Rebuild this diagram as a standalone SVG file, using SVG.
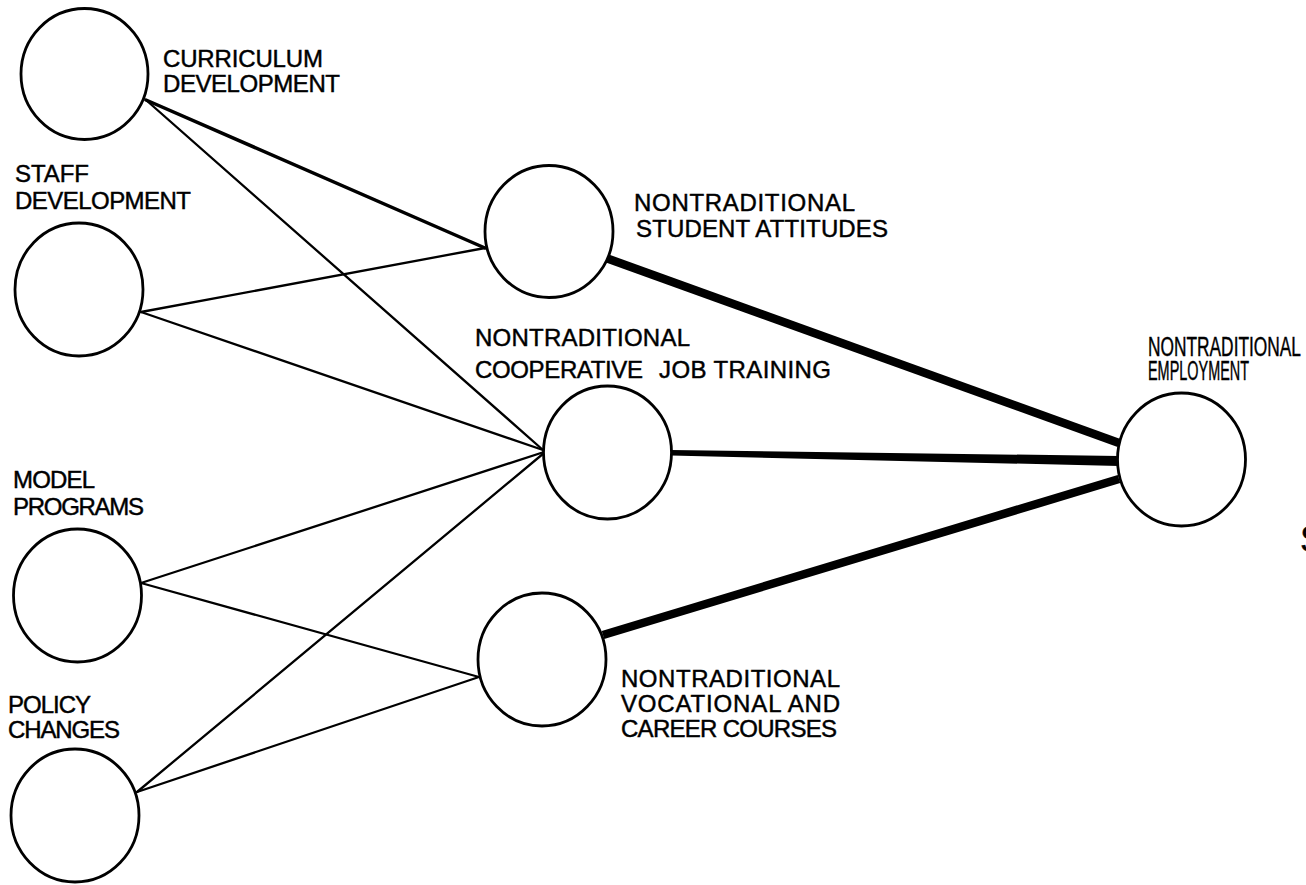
<svg xmlns="http://www.w3.org/2000/svg" width="1306" height="885" viewBox="0 0 1306 885">
<style>
.n{fill:#fff;stroke:#000;stroke-width:2.8}
.t{font-family:"Liberation Sans",Arial,sans-serif;font-size:24px;fill:#000;stroke:#000;stroke-width:0.45}
.c{stroke:#000;stroke-width:2.3;fill:none;stroke-linecap:round}
.k{stroke:#000;fill:none}
</style>
<rect width="1306" height="885" fill="#fff"/>
<g id="connectors">
<line class="c" x1="146" y1="100" x2="485" y2="248" style="stroke-width:3.5"/>
<line class="c" x1="146" y1="100" x2="543" y2="450"/>
<line class="c" x1="141" y1="312" x2="485" y2="248"/>
<line class="c" x1="141" y1="312" x2="543" y2="450"/>
<line class="c" x1="141" y1="583" x2="544" y2="452"/>
<line class="c" x1="141" y1="583" x2="479" y2="677"/>
<line class="c" x1="137" y1="792" x2="544" y2="453"/>
<line class="c" x1="137" y1="792" x2="479" y2="677"/>
<line class="k" x1="606" y1="258" x2="1119" y2="443" style="stroke-width:8.5"/>
<polygon points="671,450 671,455.5 1119,466 1119,456" fill="#000"/>
<line class="k" x1="603" y1="635" x2="1119" y2="479" style="stroke-width:8.5"/>
</g>
<g id="curriculum">
<ellipse class="n" cx="84.5" cy="74" rx="63.5" ry="65.5"/>
<text class="t" x="163" y="67" textLength="160">CURRICULUM</text>
<text class="t" x="163" y="92" textLength="177">DEVELOPMENT</text>
</g>
<g id="staff">
<ellipse class="n" cx="79" cy="289.5" rx="64" ry="66.5"/>
<text class="t" x="15" y="182" textLength="74">STAFF</text>
<text class="t" x="15" y="209" textLength="176">DEVELOPMENT</text>
</g>
<g id="model">
<ellipse class="n" cx="77.5" cy="595.5" rx="64" ry="66.5"/>
<text class="t" x="13" y="488" textLength="82">MODEL</text>
<text class="t" x="13" y="515" textLength="131">PROGRAMS</text>
</g>
<g id="policy">
<ellipse class="n" cx="75" cy="815.5" rx="64" ry="66.5"/>
<text class="t" x="8" y="713" textLength="83">POLICY</text>
<text class="t" x="8" y="738" textLength="112">CHANGES</text>
</g>
<g id="student">
<ellipse class="n" cx="549" cy="231.5" rx="64" ry="66"/>
<text class="t" x="634" y="211" textLength="221">NONTRADITIONAL</text>
<text class="t" x="636" y="237" textLength="252">STUDENT ATTITUDES</text>
</g>
<g id="cooperative">
<ellipse class="n" cx="607.5" cy="452.5" rx="64" ry="66.5"/>
<text class="t" x="475" y="346" textLength="215">NONTRADITIONAL</text>
<text class="t" x="475" y="378" textLength="168">COOPERATIVE</text>
<text class="t" x="659" y="378" textLength="172">JOB TRAINING</text>
</g>
<g id="vocational">
<ellipse class="n" cx="542" cy="659.5" rx="64" ry="66.5"/>
<text class="t" x="621" y="687" textLength="219">NONTRADITIONAL</text>
<text class="t" x="621" y="712" textLength="219">VOCATIONAL AND</text>
<text class="t" x="621" y="737" textLength="216">CAREER COURSES</text>
</g>
<g id="employment">
<ellipse class="n" cx="1181.5" cy="459.5" rx="64" ry="66.5"/>
<text class="t" x="1148" y="356" textLength="153" lengthAdjust="spacingAndGlyphs" style="font-size:27px">NONTRADITIONAL</text>
<text class="t" x="1148" y="380" textLength="101" lengthAdjust="spacingAndGlyphs" style="font-size:27px">EMPLOYMENT</text>
</g>
<text class="t" x="1300" y="552" style="font-size:36px">S</text>
</svg>
